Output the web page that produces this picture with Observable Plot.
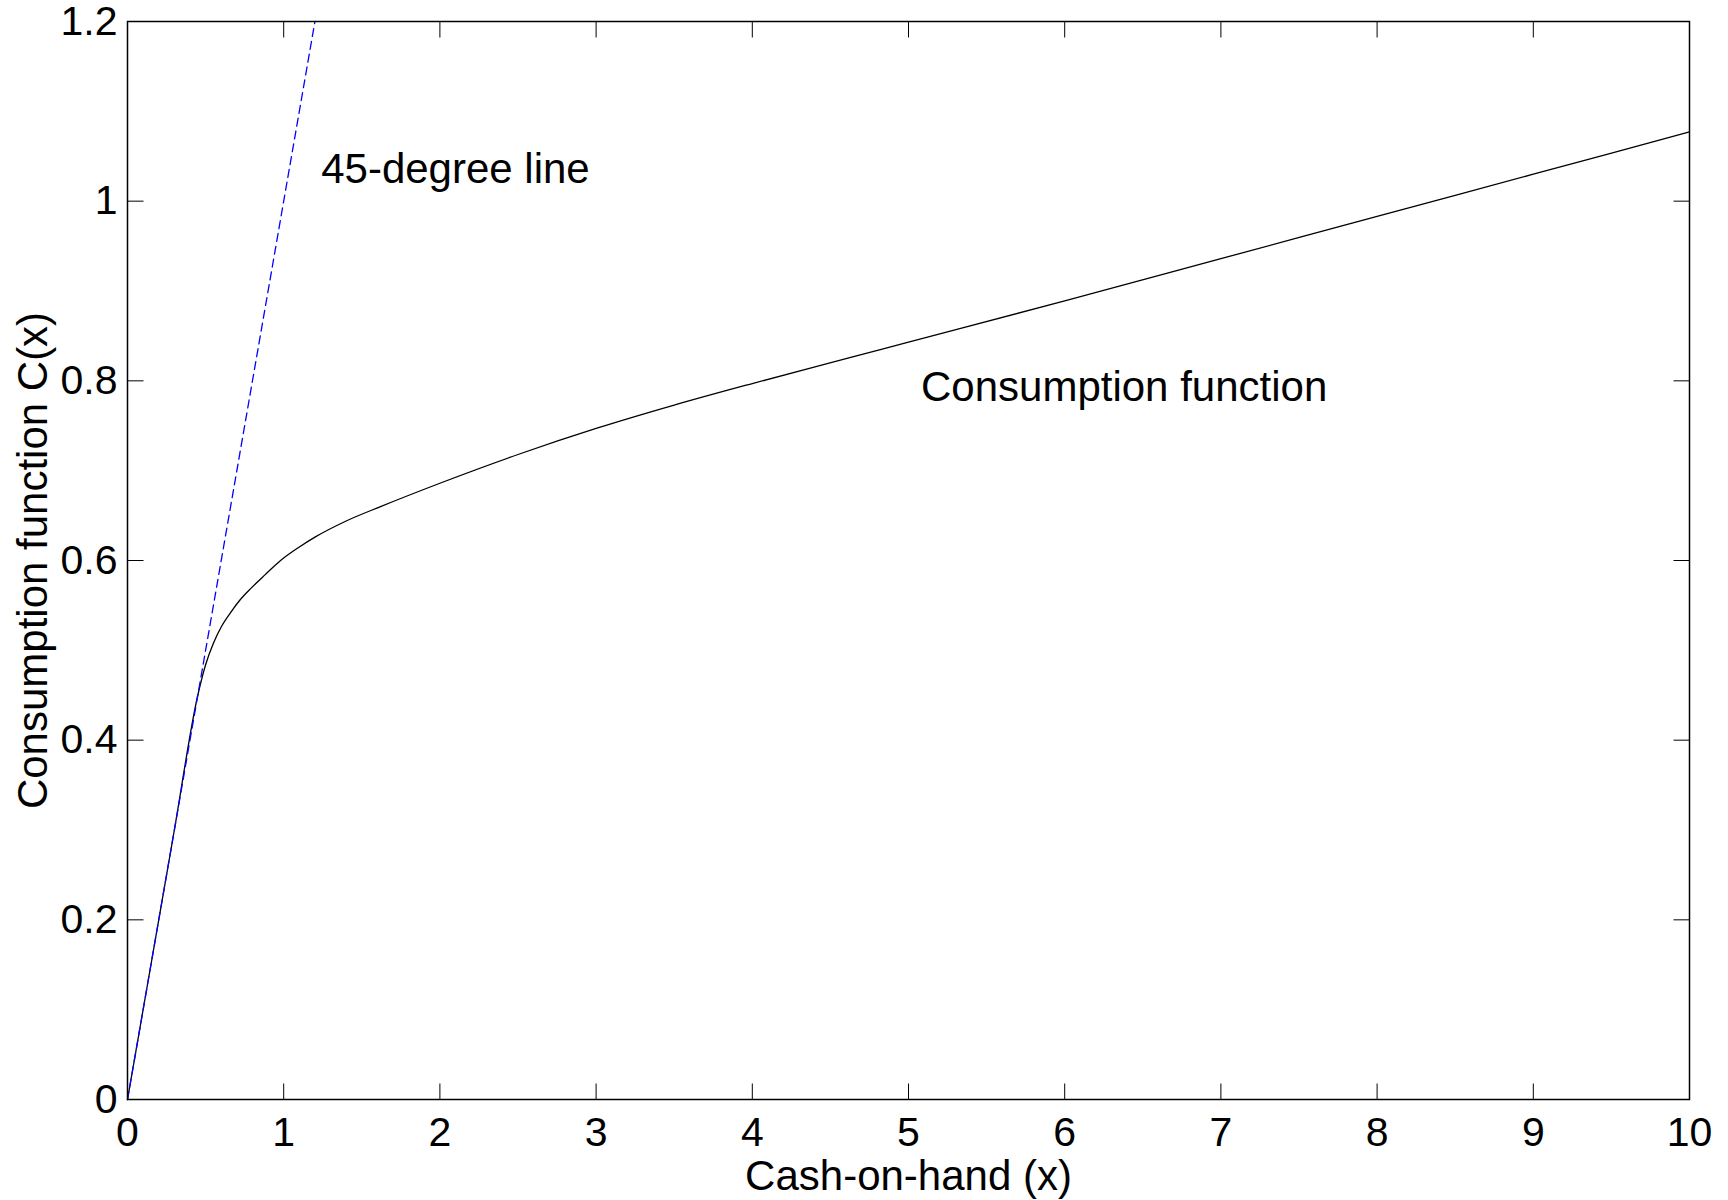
<!DOCTYPE html>
<html>
<head>
<meta charset="utf-8">
<script src="https://cdn.jsdelivr.net/npm/d3@7"></script>
<script src="https://cdn.jsdelivr.net/npm/@observablehq/plot@0.6"></script>
<style>
  html, body { margin: 0; padding: 0; background: #ffffff; }
  svg { display: block; }
</style>
</head>
<body>
<div id="chart"></div>
<script>
// ---- Data ----
const cashOnHand  = [0, 0.15, 0.30, 0.45, 0.50, 0.55, 0.60, 0.66, 0.72, 0.79, 0.88, 0.98, 1.10, 1.20, 1.40, 1.62, 2.00, 2.50, 3.00, 3.50, 4.00, 4.63, 5.00, 6.00, 7.00, 8.00, 9.00, 10.00];
const consumption = [0, 0.15, 0.30, 0.45, 0.484, 0.508, 0.526, 0.542, 0.556, 0.569, 0.584, 0.600, 0.615, 0.626, 0.644, 0.660, 0.686, 0.718, 0.747, 0.773, 0.797, 0.826, 0.843, 0.889, 0.936, 0.983, 1.030, 1.077];
const diagonalX   = [0, 1.2];               // 45-degree line endpoints (y = x)
const xTicks      = [0, 1, 2, 3, 4, 5, 6, 7, 8, 9, 10];
const yTicks      = [0, 0.2, 0.4, 0.6, 0.8, 1, 1.2];
const xLabel      = "Cash-on-hand (x)";
const yLabel      = "Consumption function C(x)";
const annotations = [
  {x: 1.24, y: 1.035, text: "45-degree line"},
  {x: 5.08, y: 0.792, text: "Consumption function"}
];

// ---- Derived tables ----
const curve = cashOnHand.map((x, i) => ({x, c: consumption[i]}));
const diagonal = diagonalX.map(v => ({x: v, y: v}));

// inward tick symbols (length in px)
const T = 16;
const tickUp    = {draw(ctx) { ctx.moveTo(0, 0); ctx.lineTo(0, -T); }};
const tickDown  = {draw(ctx) { ctx.moveTo(0, 0); ctx.lineTo(0, T); }};
const tickRight = {draw(ctx) { ctx.moveTo(0, 0); ctx.lineTo(T, 0); }};
const tickLeft  = {draw(ctx) { ctx.moveTo(0, 0); ctx.lineTo(-T, 0); }};
const fmt = d => `${d}`;

const chart = Plot.plot({
  width: 1728,
  height: 1200,
  marginLeft: 127,
  marginRight: 39,
  marginTop: 21,
  marginBottom: 101,
  style: {fontFamily: "'Liberation Sans', Arial, Helvetica, sans-serif", background: "#ffffff", color: "#000000"},
  x: {domain: [0, 10]},
  y: {domain: [0, 1.2]},
  marks: [
    Plot.axisX(xTicks, {anchor: "bottom", tickSize: 0, tickPadding: 17, fontSize: 41, tickFormat: fmt, label: null}),
    Plot.axisY(yTicks, {anchor: "left", tickSize: 0, tickPadding: 10, fontSize: 41, tickFormat: fmt, label: null}),
    Plot.dot(xTicks, {x: d => d, frameAnchor: "bottom", symbol: tickUp, r: 4, stroke: "black", fill: "none", strokeWidth: 1}),
    Plot.dot(xTicks, {x: d => d, frameAnchor: "top", symbol: tickDown, r: 4, stroke: "black", fill: "none", strokeWidth: 1}),
    Plot.dot(yTicks, {y: d => d, frameAnchor: "left", symbol: tickRight, r: 4, stroke: "black", fill: "none", strokeWidth: 1}),
    Plot.dot(yTicks, {y: d => d, frameAnchor: "right", symbol: tickLeft, r: 4, stroke: "black", fill: "none", strokeWidth: 1}),
    Plot.line(curve, {x: "x", y: "c", stroke: "black", strokeWidth: 1.3, curve: "monotone-x"}),
    Plot.line(diagonal, {x: "x", y: "y", stroke: "#0000ff", strokeWidth: 1.3, strokeDasharray: "8,5"}),
    Plot.frame({stroke: "black", strokeWidth: 1.5}),
    Plot.text(annotations, {x: "x", y: "y", text: "text", textAnchor: "start", lineAnchor: "middle", fontSize: 42, fill: "black"}),
    Plot.text([xLabel], {text: d => d, frameAnchor: "bottom", textAnchor: "middle", dy: 77, lineAnchor: "middle", fontSize: 42, fill: "black"}),
    Plot.text([yLabel], {text: d => d, frameAnchor: "left", textAnchor: "middle", dx: -94, rotate: -90, lineAnchor: "middle", fontSize: 42, fill: "black"})
  ]
});
document.getElementById("chart").appendChild(chart);
</script>
</body>
</html>
